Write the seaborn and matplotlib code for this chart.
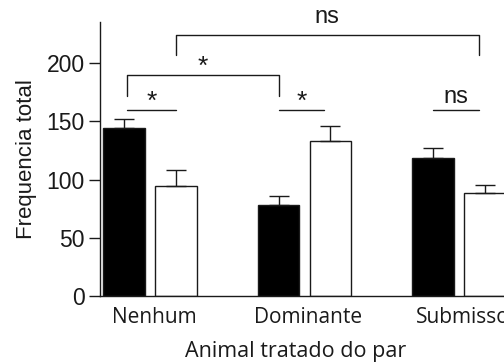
import numpy as np
import pandas as pd
import seaborn as sns
import matplotlib.pyplot as plt
import matplotlib.transforms as mtransforms

# data
grupos = ["Nenhum", "Dominante", "Submisso"]
tratados = ["tratado", "controle"]
media_tratado = [144.5, 78.5, 118.5]
media_controle = [94.5, 133.0, 88.0]
erro_tratado = [7.5, 7.0, 8.5]
erro_controle = [13.5, 12.5, 7.5]

df = pd.DataFrame({
    "grupo": grupos * 2,
    "animal": [tratados[0]] * 3 + [tratados[1]] * 3,
    "freq": media_tratado + media_controle,
})
erros = erro_tratado + erro_controle

sns.set_style("ticks")
plt.rcParams["font.family"] = ["Liberation Sans", "DejaVu Sans"]
tinta = "#1a1a1a"
fonte_x = ["Open Sans", "DejaVu Sans"]

fig = plt.figure(figsize=(5.04, 3.62), dpi=100)
ax = fig.add_axes([0.198, 0.182, 0.835, 0.757])

sns.barplot(data=df, x="grupo", y="freq", hue="animal", order=grupos,
            hue_order=tratados, palette=["black", "white"], width=0.67, gap=0.2,
            errorbar=None, edgecolor=tinta, linewidth=1.0, legend=False, ax=ax)

# upward-only error bars, positioned from the drawn patches
centros = []
for i, p in enumerate(ax.patches[:6]):
    cx = p.get_x() + p.get_width() / 2
    centros.append(cx)
    h = p.get_height()
    ax.errorbar(cx, h, yerr=[[0], [erros[i]]], fmt="none", ecolor=tinta,
                elinewidth=1.0, capsize=7.5, capthick=1.0, zorder=1)

ax.set_xlim(-0.325, 2.4)
ax.set_ylim(0, 235)
ax.set_yticks([0, 50, 100, 150, 200])
sns.despine(ax=ax)
for s in ["left", "bottom"]:
    ax.spines[s].set_linewidth(1.0)
    ax.spines[s].set_color(tinta)

ax.tick_params(axis="y", length=8, width=1.0, color=tinta, labelsize=16.5,
               labelcolor=tinta, pad=3)
ax.tick_params(axis="x", length=0, pad=8)
desloca = mtransforms.ScaledTranslation(4 / 100, 0, fig.dpi_scale_trans)
for lbl in ax.get_xticklabels():
    lbl.set_family(fonte_x)
    lbl.set_fontsize(15)
    lbl.set_color(tinta)
    lbl.set_transform(lbl.get_transform() + desloca)

ax.set_ylabel("Frequencia total", fontsize=16, color=tinta, labelpad=7)
ax.set_xlabel("Animal tratado do par", fontsize=15.5, color=tinta,
              family=fonte_x)
ax.xaxis.set_label_coords(0.466, -0.165)

# significance marks
preto = centros[:3]
branco = centros[3:]


def linha(x0, x1, y, texto, dy=2, fs=17):
    ax.plot([x0, x1], [y, y], color=tinta, lw=1.0, clip_on=False)
    ax.text((x0 + x1) / 2, y + dy, texto, ha="center", va="bottom",
            fontsize=fs, color=tinta)


def colchete(x0, x1, y, y_base, texto, dy=2, fs=17):
    ax.plot([x0, x0, x1, x1], [y_base, y, y, y_base], color=tinta, lw=1.0,
            clip_on=False)
    ax.text((x0 + x1) / 2, y + dy, texto, ha="center", va="bottom",
            fontsize=fs, color=tinta)


linha(preto[0] + 0.02, branco[0], 160, "*", dy=-4, fs=19)
linha(preto[1] + 0.0, branco[1] - 0.04, 160, "*", dy=-4, fs=19)
linha(preto[2] - 0.0, branco[2] - 0.04, 160, "ns", dy=1, fs=17)
colchete(preto[0] + 0.02, preto[1], 190, 172, "*", dy=-4, fs=19)
colchete(branco[0], branco[2] - 0.04, 224, 207, "ns", dy=6, fs=17)

fig.savefig("out.png", dpi=100)
